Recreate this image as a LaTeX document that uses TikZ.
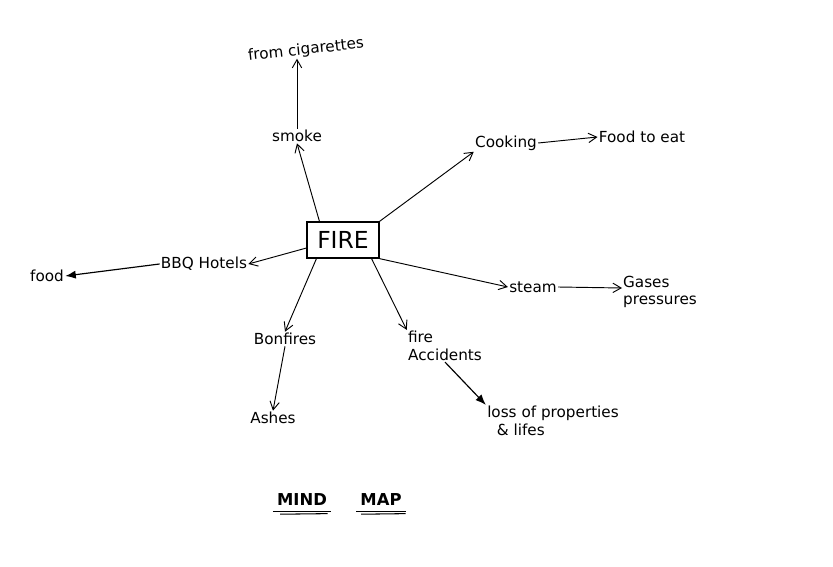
\documentclass[tikz,border=0pt]{standalone}
\usepackage{fontspec}
\setmainfont{DejaVu Sans}
\usetikzlibrary{arrows.meta}
\begin{document}
\begin{tikzpicture}[x=0.03cm,y=-0.03cm,
  lbl/.style={inner sep=1pt,font=\fontsize{13}{15}\selectfont},
  arr/.style={-{Straight Barb[length=7pt,width=8pt]},line width=0.8pt},
  thickarr/.style={-{Latex[length=9pt,width=7pt]},line width=1pt}]
\useasboundingbox (0,0) rectangle (833,567);
\fill[white] (0,0) rectangle (833,567);
\node[draw,line width=1.2pt,minimum width=72pt*0.85,minimum height=36pt*0.85,inner sep=2pt,font=\fontsize{20}{22}\selectfont] (fire) at (343,240) {FIRE};
\node[lbl] (smoke) at (297,136) {smoke};
\node[lbl,rotate=6] (cig) at (306,50) {from cigarettes};
\node[lbl] (cook) at (506,143) {Cooking};
\node[lbl] (eat) at (642,137) {Food to eat};
\node[lbl] (bbq) at (204,264) {BBQ Hotels};
\node[lbl] (food) at (47,276) {food};
\node[lbl] (steam) at (533,287) {steam};
\node[lbl,align=left] (gas) at (660,292) {Gases\\pressures};
\coordinate (gasin) at (622,288);
\node[lbl] (bon) at (285,339) {Bonfires};
\node[lbl] (ash) at (273,418) {Ashes};
\node[lbl,align=left] (acc) at (445,346) {fire\\Accidents};
\node[lbl,align=left] (loss) at (553,421) {loss of properties\\\ \ \& lifes};
\node[font=\fontsize{14}{16}\selectfont\bfseries] (mind) at (302,500) {MIND};
\node[font=\fontsize{14}{16}\selectfont\bfseries] (map) at (381,500) {MAP};
\draw[line width=0.9pt] ([yshift=-1pt]mind.south west) -- ([yshift=-1pt]mind.south east);
\draw[line width=0.9pt] ([yshift=-3.5pt,xshift=6pt]mind.south west) -- ([yshift=-3pt,xshift=-3pt]mind.south east);
\draw[line width=0.9pt] ([yshift=-1pt]map.south west) -- ([yshift=-1pt]map.south east);
\draw[line width=0.9pt] ([yshift=-3.5pt,xshift=4pt]map.south west) -- ([yshift=-3pt]map.south east);
\draw[arr] (fire.north west) ++(13,0) -- (smoke.south);
\draw[arr] (smoke.north) -- (smoke.north |- cig.south);
\draw[arr] (fire.north east) -- (cook.south west);
\draw[arr] (cook.east) -- (eat.west);
\draw[arr] (fire.west) ++(0,8) -- (bbq.east);
\draw[thickarr] (bbq.west) -- (food.east);
\draw[arr] (fire.south east) -- (steam.west);
\draw[arr] (steam.east) -- (gasin);
\draw[arr] (fire.south west) ++(10,0) -- (bon.north);
\draw[arr] (bon.south) -- (ash.north);
\draw[arr] (fire.south east) ++(-8,0) -- (acc.north west);
\draw[thickarr] (acc.south) -- (loss.north west);
\end{tikzpicture}
\end{document}
